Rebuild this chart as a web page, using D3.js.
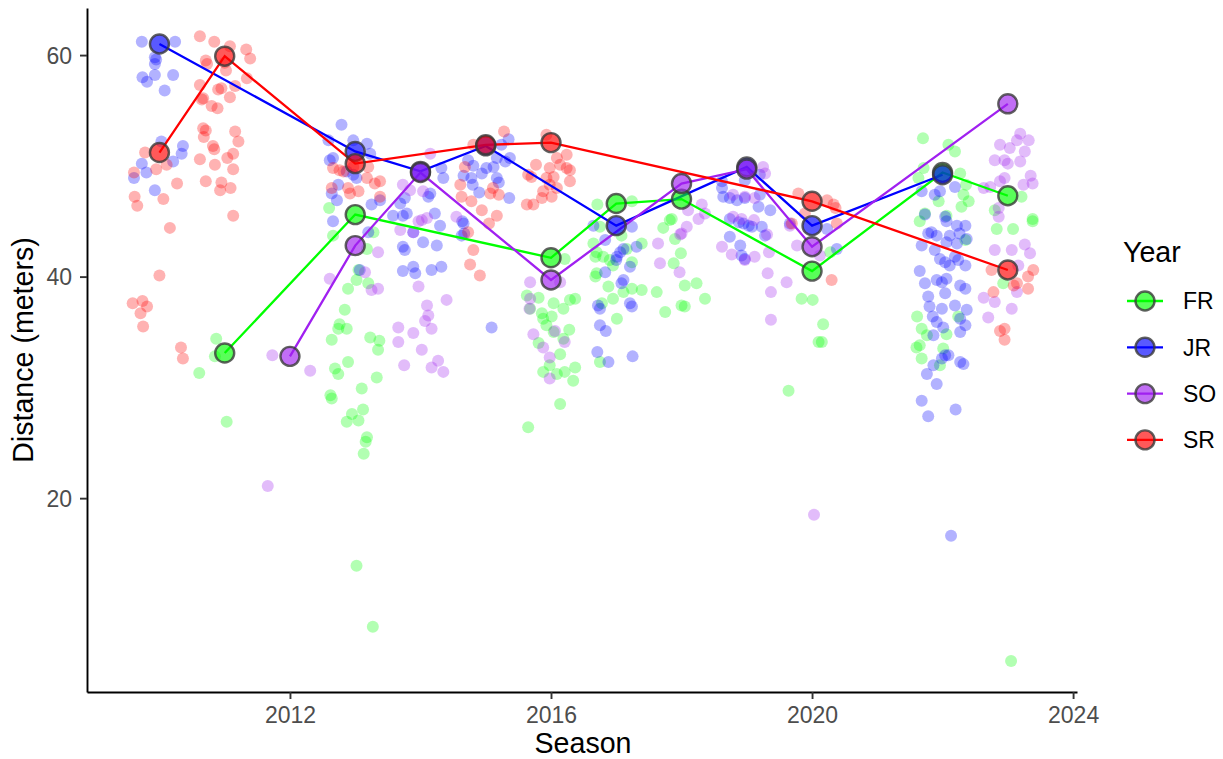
<!DOCTYPE html>
<html>
<head>
<meta charset="utf-8">
<script src="https://cdn.jsdelivr.net/npm/d3@7"></script>
<style>
body { margin: 0; background: #fff; }
text { font-family: "Liberation Sans", Arial, sans-serif; }
</style>
</head>
<body>
<script>
'use strict';

// class years, in legend order
let years = ['FR', 'JR', 'SO', 'SR'];
let colors = ['#00FF00', '#0000FF', '#A020F0', '#FF0000'];

// yearly means (the big circles)
let frSeasons = [2011, 2013, 2016, 2017, 2018, 2020, 2022, 2023];
let frMeans = [33.1, 45.6, 41.7, 46.6, 47.0, 40.5, 49.4, 47.3];
let jrSeasons = [2010, 2013, 2014, 2015, 2017, 2019, 2020, 2022];
let jrMeans = [61.0, 51.3, 49.5, 51.8, 44.6, 49.9, 44.6, 49.2];
let soSeasons = [2012, 2013, 2014, 2016, 2018, 2019, 2020, 2023];
let soMeans = [32.8, 42.8, 49.4, 39.7, 48.4, 49.7, 42.7, 55.6];
let srSeasons = [2010, 2011, 2013, 2015, 2016, 2020, 2023];
let srMeans = [51.2, 59.9, 50.2, 51.9, 52.1, 46.8, 40.6];

// individual throws, [jittered season, distance]
let frThrows = [
  [2010.87,34.4],[2010.85,32.8],[2010.61,31.3],[2011.03,26.9],
  [2012.6,46.2],[2012.66,43.7],[2013.18,42.5],[2013.28,44.0],[2013.05,40.6],[2013.02,39.7],[2013.2,39.4],[2012.89,38.9],
  [2012.84,37.0],[2012.76,35.7],[2012.87,35.3],[2012.64,34.3],[2012.74,35.3],[2013.23,34.5],[2013.37,34.2],[2013.35,33.4],
  [2012.89,32.3],[2012.69,31.7],[2012.74,31.2],[2013.33,30.9],[2013.1,29.9],[2012.62,29.3],[2012.64,29.0],[2013.12,28.0],
  [2012.95,27.6],[2012.87,26.9],[2013.05,27.0],[2013.18,25.5],[2013.16,25.1],[2013.13,24.0],[2013.02,13.9],[2013.27,8.4],
  [2016.21,41.6],[2015.63,38.3],[2015.81,38.1],[2015.68,37.1],[2015.86,36.7],[2015.88,36.2],[2016.01,36.4],[2015.93,35.6],
  [2016.19,37.1],[2016.29,37.9],[2016.37,38.0],[2016.04,37.6],[2016.28,35.2],[2016.19,34.4],[2016.14,33.0],[2015.81,34.0],
  [2016.04,35.0],[2015.98,32.0],[2015.88,31.4],[2016.09,31.2],[2016.21,31.4],[2016.34,30.6],[2016.37,31.8],[2016.14,28.5],
  [2015.65,26.4],
  [2016.71,46.5],[2017.24,46.8],[2016.75,44.5],[2017.08,43.7],[2016.65,43.0],[2016.68,41.8],[2016.7,42.2],[2016.8,41.8],
  [2016.9,41.5],[2016.95,41.0],[2017.16,42.5],[2017.24,41.3],[2017.39,43.0],[2016.68,40.0],[2016.7,40.3],[2016.88,39.1],
  [2016.95,38.0],[2017.11,38.6],[2017.24,38.9],[2017.39,38.8],[2016.78,37.6],[2017.01,36.2],[2016.75,32.3],
  [2017.82,45.1],[2017.85,45.2],[2017.72,44.4],[2017.9,43.4],[2017.88,41.2],[2017.99,42.1],[2017.62,38.6],[2017.75,36.8],
  [2018.05,39.2],[2018.23,39.4],[2018.36,38.0],[2018.0,37.4],[2018.05,37.3],
  [2020.28,42.2],[2019.84,38.0],[2020.01,37.9],[2020.17,35.7],[2020.1,34.1],[2020.15,34.1],[2019.64,29.7],
  [2021.7,52.5],[2022.09,51.9],[2022.19,51.3],[2022.27,49.3],[2022.36,48.3],[2021.63,48.9],[2021.71,49.8],[2022.32,47.4],
  [2022.4,46.8],[2022.29,46.3],[2021.94,46.8],[2021.65,45.0],[2021.73,45.7],[2022.35,43.3],[2022.06,45.5],[2021.61,36.4],
  [2021.68,35.3],[2021.76,34.7],[2021.65,33.8],[2021.6,33.6],[2021.68,32.6],[2022.06,34.8],[2022.24,36.4],[2021.96,32.0],
  [2022.01,33.5],
  [2023.38,45.2],[2023.38,45.0],[2022.8,46.0],[2022.83,44.3],[2023.08,44.3],[2023.21,47.2],[2022.93,39.4],[2023.05,5.3]
];
let jrThrows = [
  [2009.73,61.2],[2010.24,61.2],[2009.93,59.8],[2009.95,59.6],[2009.93,59.2],[2009.74,58.0],[2009.81,57.6],[2009.93,58.2],
  [2010.21,58.2],[2010.08,56.8],[2010.03,52.2],[2010.36,51.8],[2010.34,51.1],[2010.21,50.4],[2009.73,50.2],[2009.8,49.4],
  [2009.61,48.9],[2009.93,47.8],
  [2012.79,53.7],[2012.59,52.3],[2012.66,50.7],[2012.61,50.5],[2013.18,52.0],[2013.23,51.1],[2012.97,52.3],[2013.02,48.9],
  [2012.97,49.2],[2012.87,49.5],[2012.64,47.5],[2012.72,46.9],[2012.74,48.3],[2013.25,46.5],[2013.38,46.9],[2012.66,45.0],
  [2013.2,44.0],[2013.07,40.6],
  [2014.32,49.8],[2014.35,48.9],[2013.69,46.6],[2013.76,47.1],[2013.73,45.5],[2013.79,45.7],[2013.58,45.5],[2013.89,44.0],
  [2014.04,43.1],[2014.25,42.8],[2014.22,45.7],[2014.3,44.6],[2014.12,47.2],[2014.15,47.5],[2013.76,42.4],[2013.73,42.7],
  [2013.73,40.5],[2013.92,40.3],[2013.89,40.9],[2014.17,40.6],[2014.32,40.9],[2014.64,45.0],[2014.63,43.7],
  [2015.35,52.4],[2015.24,51.9],[2015.37,50.7],[2015.17,50.7],[2015.3,50.4],[2015.12,49.9],[2014.73,50.5],[2014.81,50.0],
  [2015.01,49.8],[2014.94,49.3],[2014.66,49.1],[2014.78,48.9],[2014.8,48.3],[2015.17,48.9],[2015.2,48.5],[2014.9,47.6],
  [2015.36,47.1],[2014.66,44.8],[2014.67,43.9],[2015.09,35.4],
  [2017.24,44.5],[2016.83,43.3],[2016.65,44.6],[2017.11,42.5],[2017.06,42.2],[2017.31,42.7],[2017.01,41.8],[2017.0,41.5],
  [2017.21,40.9],[2016.83,40.4],[2017.11,39.7],[2017.08,39.4],[2017.21,37.6],[2017.24,37.3],[2016.72,37.4],[2016.75,37.1],
  [2016.75,35.6],[2016.84,35.1],[2016.71,33.2],[2016.88,32.3],[2017.25,32.8],
  [2018.62,48.0],[2018.64,47.2],[2018.74,47.1],[2018.85,46.9],[2018.97,47.1],[2018.74,45.2],[2018.88,44.9],[2018.95,44.8],
  [2019.03,44.6],[2018.74,43.6],[2018.9,42.8],[2018.97,41.6],[2018.92,41.9],[2018.62,48.6],[2019.2,49.2],[2018.97,48.7],
  [2019.2,47.4],[2019.36,46.0],[2019.18,46.3],[2019.08,44.5],[2019.23,44.5],[2019.28,43.7],[2019.66,44.8],
  [2020.23,44.3],[2020.38,42.5],
  [2021.68,47.7],[2021.88,47.4],[2021.96,47.7],[2022.19,48.1],[2021.73,45.6],[2022.04,45.4],[2022.06,45.0],[2022.22,44.6],
  [2022.35,44.6],[2021.78,43.9],[2021.83,44.0],[2021.91,43.7],[2022.11,43.7],[2022.26,43.9],[2022.37,43.4],[2022.06,43.1],
  [2022.22,43.0],[2021.68,42.8],[2021.88,42.4],[2021.96,41.6],[2022.04,41.3],[2022.19,41.8],[2022.24,41.5],[2022.11,41.0],
  [2022.35,41.0],[2021.65,40.5],[2021.73,39.4],[2021.91,39.7],[2021.99,39.5],[2022.06,39.8],[2022.04,38.5],[2022.27,39.2],
  [2022.35,38.9],[2021.78,38.2],[2021.8,37.3],[2021.85,36.4],[2021.99,37.1],[2021.91,35.9],[2022.01,35.4],[2022.19,37.4],
  [2022.37,37.0],[2022.27,36.2],[2022.35,35.6],[2022.27,35.0],[2021.86,34.7],[2022.04,32.9],[2021.99,32.6],[2022.09,32.9],
  [2022.27,32.3],[2022.32,32.1],[2021.86,32.0],[2021.76,31.2],[2021.91,30.3],[2021.68,28.8],[2021.78,27.4],[2022.2,28.0],
  [2022.13,16.6]
];
let soThrows = [
  [2011.73,32.9],[2011.66,21.1],[2012.31,31.5],[2012.61,39.8],
  [2013.35,42.2],[2013.15,40.4],[2013.25,38.8],[2013.35,38.9],
  [2014.15,51.1],[2013.73,48.3],[2013.84,47.8],[2014.04,47.7],[2014.1,45.3],[2014.02,45.1],[2013.97,45.0],[2013.69,44.2],
  [2013.89,44.0],[2014.55,45.4],[2013.97,39.1],[2014.4,37.9],[2014.1,37.4],[2014.12,36.5],[2014.07,36.0],[2014.17,35.3],
  [2013.66,35.4],[2013.66,34.1],[2013.89,34.9],[2014.02,33.4],[2013.75,32.0],[2014.17,31.8],[2014.27,32.4],[2014.35,31.4],
  [2015.68,39.5],[2015.68,38.0],[2015.67,37.1],[2016.14,39.5],[2015.73,34.8],[2016.06,35.1],[2016.21,34.1],[2015.88,33.6],
  [2015.98,32.7],[2015.98,30.8],
  [2018.1,46.0],[2018.26,45.2],[2018.31,46.5],[2018.36,45.7],[2018.08,44.5],[2018.0,43.9],[2017.98,43.8],[2017.64,43.0],
  [2017.67,41.2],[2017.97,40.4],
  [2018.79,45.4],[2018.92,45.2],[2018.62,42.7],[2018.77,42.0],[2018.97,41.5],[2018.79,47.4],[2019.25,49.9],[2019.28,49.3],
  [2018.97,47.2],[2019.12,47.1],[2019.11,45.1],[2019.31,43.8],[2019.34,42.2],[2019.12,41.8],[2019.32,40.3],[2019.37,38.6],
  [2019.37,36.1],
  [2019.61,39.5],[2019.77,42.8],[2019.66,44.6],[2020.12,41.9],[2020.03,18.5],
  [2023.19,52.9],[2023.14,52.3],[2023.32,52.3],[2022.88,51.9],[2023.03,51.6],[2023.26,51.3],[2022.8,50.5],[2022.95,50.5],
  [2023.0,50.2],[2023.19,50.4],[2023.35,49.1],[2022.95,48.9],[2022.88,48.6],[2022.73,48.1],[2022.63,48.0],[2023.24,48.3],
  [2023.38,48.4],[2022.86,46.2],[2022.86,45.4],[2022.8,42.4],[2023.06,42.4],[2023.26,42.9],[2023.34,42.1],[2023.16,41.0],
  [2022.63,38.1],[2022.8,37.7],[2023.14,38.6],[2023.06,37.1],[2022.7,36.3]
];
let srThrows = [
  [2010.62,61.7],[2010.84,61.2],[2011.08,60.8],[2011.33,60.5],[2011.39,59.7],[2010.71,59.5],[2010.73,59.2],[2011.0,59.3],
  [2011.02,58.6],[2011.34,57.9],[2011.16,57.2],[2010.62,57.3],[2010.9,56.9],[2010.95,57.0],[2011.08,56.2],[2010.67,56.1],
  [2010.65,56.0],[2010.8,55.4],[2010.89,55.2],[2010.67,53.4],[2010.71,53.2],[2011.16,53.1],[2011.21,52.2],[2010.68,52.6],
  [2010.82,51.8],[2010.84,51.5],[2010.62,50.6],[2010.85,50.1],[2011.04,50.7],[2011.13,51.1],[2011.13,49.7],[2009.78,51.2],
  [2009.95,49.7],[2010.11,50.1],[2009.61,49.4],[2010.27,48.4],[2010.71,48.6],[2010.95,48.5],[2010.93,47.8],[2011.09,48.0],
  [2009.62,47.2],[2009.66,46.4],[2010.06,47.0],[2011.13,45.5],[2010.16,44.4],[2010.0,40.1],[2009.59,37.6],[2009.74,37.8],
  [2009.81,37.3],[2009.71,36.7],[2009.75,35.5],[2010.33,33.6],[2010.36,32.6],
  [2012.66,49.8],[2012.76,49.6],[2012.82,49.5],[2012.64,48.0],[2012.89,48.0],[2012.92,47.5],[2013.05,47.7],[2013.18,48.9],
  [2013.3,48.4],[2013.38,48.6],[2013.38,47.2],[2012.97,49.9],[2013.2,49.9],
  [2015.28,53.1],[2014.81,51.9],[2014.68,49.9],[2014.61,48.3],[2014.63,47.2],[2014.78,46.8],[2014.94,46.0],[2015.17,45.5],
  [2015.05,44.8],[2015.07,47.5],[2015.2,47.4],[2015.11,48.0],[2014.73,44.0],[2014.81,42.4],[2014.76,41.1],[2014.91,40.1],
  [2015.77,50.1],[2015.65,49.2],[2015.7,49.0],[2016.09,50.7],[2016.24,51.0],[2016.14,50.1],[2016.24,49.8],[2016.29,49.6],
  [2015.98,49.8],[2015.93,48.9],[2016.04,49.0],[2016.09,48.0],[2015.98,48.3],[2016.29,48.6],[2015.88,47.7],[2015.86,47.1],
  [2016.01,47.2],[2015.63,46.5],[2015.73,46.5],[2015.93,52.8],
  [2019.79,47.5],[2020.23,46.9],[2020.33,46.5],[2020.36,46.2],[2019.89,45.7],[2019.69,44.8],[2020.38,44.8],[2020.3,39.7],
  [2022.75,40.6],[2023.39,40.6],[2023.31,40.0],[2023.14,39.4],[2023.09,39.2],[2023.31,38.9],[2022.78,38.6],[2022.88,35.1],
  [2022.95,35.3],[2022.95,34.3]
];

let xTicks = [2012, 2016, 2020, 2024];
let yTicks = [20, 40, 60];

let svgContainer = '';
let width = 1223;
let height = 759;

window.onload = function() {
    svgContainer = d3.select('body')
        .append('svg')
        .attr('width', width)
        .attr('height', height);

    makeGraph();
}

function makeGraph() {
    let xScale = d3.scaleLinear()
        .domain([2008.89, 2024.06])
        .range([87, 1077]);
    let yScale = d3.scaleLinear()
        .domain([2.5, 64.25])
        .range([692, 8]);

    let throws = [frThrows, jrThrows, soThrows, srThrows];
    let means = [
        frSeasons.map((s, i) => [s, frMeans[i]]),
        jrSeasons.map((s, i) => [s, jrMeans[i]]),
        soSeasons.map((s, i) => [s, soMeans[i]]),
        srSeasons.map((s, i) => [s, srMeans[i]])
    ];

    drawAxes(xScale, yScale);

    // jittered throws
    throws.forEach((pts, k) => {
        svgContainer.append('g')
            .selectAll('circle')
            .data(pts)
            .enter()
            .append('circle')
            .attr('cx', d => xScale(d[0]))
            .attr('cy', d => yScale(d[1]))
            .attr('r', 6)
            .attr('fill', colors[k])
            .attr('fill-opacity', 0.3);
    });

    let line = d3.line()
        .x(d => xScale(d[0]))
        .y(d => yScale(d[1]));

    means.forEach((pts, k) => {
        svgContainer.append('path')
            .datum(pts)
            .attr('d', line)
            .attr('fill', 'none')
            .attr('stroke', colors[k])
            .attr('stroke-width', 2.3);
    });

    means.forEach((pts, k) => {
        svgContainer.append('g')
            .selectAll('circle')
            .data(pts)
            .enter()
            .append('circle')
            .attr('cx', d => xScale(d[0]))
            .attr('cy', d => yScale(d[1]))
            .attr('r', 9.5)
            .attr('fill', colors[k])
            .attr('fill-opacity', 0.65)
            .attr('stroke', '#3a3a3a')
            .attr('stroke-opacity', 0.8)
            .attr('stroke-width', 2.4);
    });

    makeLegend();
    makeLabels();
}

function drawAxes(xScale, yScale) {
    let xAxis = d3.axisBottom(xScale)
        .tickValues(xTicks)
        .tickFormat(d3.format('d'))
        .tickSize(7)
        .tickSizeOuter(0);
    let gx = svgContainer.append('g')
        .attr('transform', 'translate(0, 692)')
        .call(xAxis);
    gx.select('.domain').attr('stroke', '#000').attr('stroke-width', 1.9);
    gx.selectAll('.tick line').attr('stroke', '#333').attr('stroke-width', 1.9);
    gx.selectAll('.tick text')
        .attr('y', 31)
        .attr('dy', null)
        .attr('fill', '#4D4D4D')
        .style('font-size', '23px')
        .style('font-family', '"Liberation Sans", Arial, sans-serif');

    let yAxis = d3.axisLeft(yScale)
        .tickValues(yTicks)
        .tickSize(7)
        .tickSizeOuter(0);
    let gy = svgContainer.append('g')
        .attr('transform', 'translate(87, 0)')
        .call(yAxis);
    gy.select('.domain').attr('stroke', '#000').attr('stroke-width', 1.9);
    gy.selectAll('.tick line').attr('stroke', '#333').attr('stroke-width', 1.9);
    gy.selectAll('.tick text')
        .attr('x', -15)
        .attr('dy', '0.35em')
        .attr('fill', '#4D4D4D')
        .style('font-size', '23px')
        .style('font-family', '"Liberation Sans", Arial, sans-serif');
}

function makeLegend() {
    svgContainer.append('text')
        .attr('x', 1123)
        .attr('y', 262)
        .style('font-size', '28.6px')
        .text('Year');

    let keys = svgContainer.selectAll('.key')
        .data(years)
        .enter()
        .append('g')
        .attr('class', 'key')
        .attr('transform', (d, i) => 'translate(0, ' + (301 + i * 46.3) + ')');

    keys.append('line')
        .attr('x1', 1127)
        .attr('x2', 1163)
        .attr('stroke', (d, i) => colors[i])
        .attr('stroke-width', 2.3);

    keys.append('circle')
        .attr('cx', 1145)
        .attr('r', 9.5)
        .attr('fill', (d, i) => colors[i])
        .attr('fill-opacity', 0.65)
        .attr('stroke', '#3a3a3a')
        .attr('stroke-opacity', 0.8)
        .attr('stroke-width', 2.4);

    keys.append('text')
        .attr('x', 1183)
        .attr('y', 8.3)
        .style('font-size', '23px')
        .text(d => d);
}

function makeLabels() {
    svgContainer.append('text')
        .attr('x', 583)
        .attr('y', 753)
        .attr('text-anchor', 'middle')
        .style('font-size', '28.6px')
        .text('Season');

    svgContainer.append('text')
        .attr('transform', 'translate(33, 350)rotate(-90)')
        .attr('text-anchor', 'middle')
        .style('font-size', '28.6px')
        .text('Distance (meters)');
}
</script>
</body>
</html>
